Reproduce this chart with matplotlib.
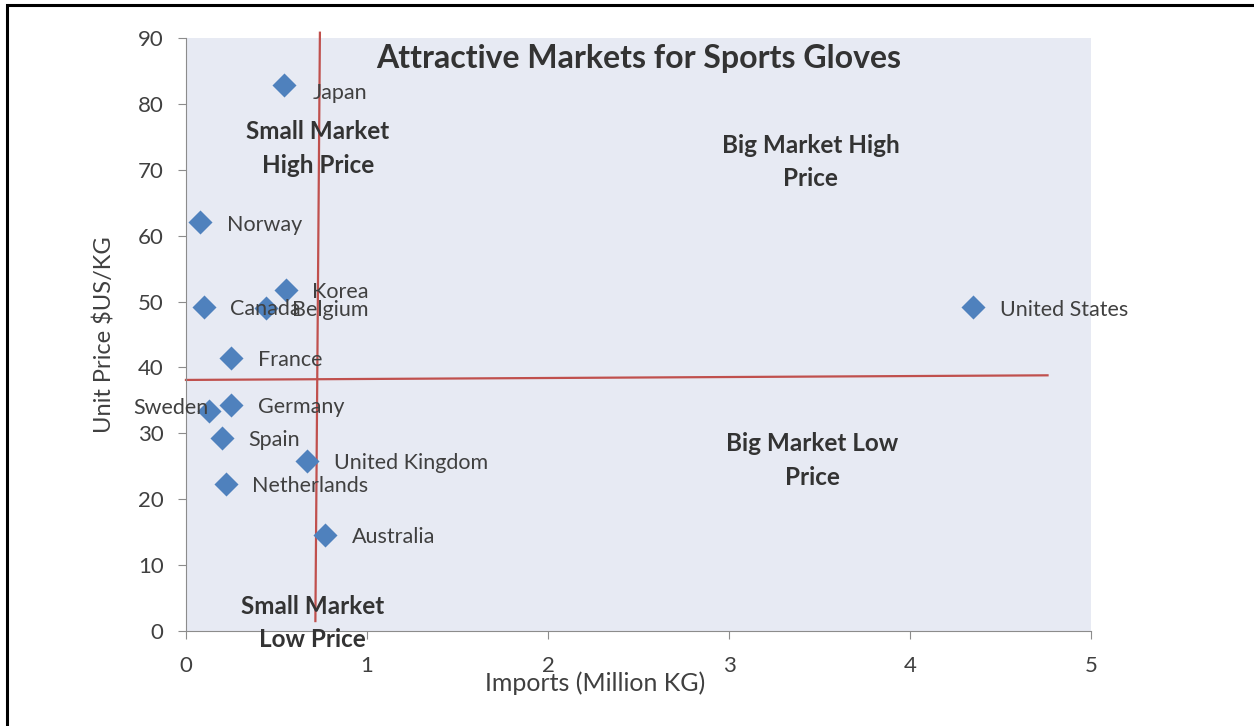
import matplotlib.pyplot as plt
from matplotlib.patches import Rectangle

plt.rcParams['font.family'] = ['Lato', 'DejaVu Sans']

# data
countries = ['Japan', 'Norway', 'Korea', 'Canada', 'Belgium', 'France', 'Sweden',
             'Germany', 'Spain', 'United Kingdom', 'Netherlands', 'Australia',
             'United States']
imports_mkg = [0.54, 0.08, 0.55, 0.10, 0.44, 0.25, 0.13, 0.25, 0.20, 0.67, 0.22, 0.77, 4.35]
unit_price = [82.9, 62.0, 51.7, 49.2, 49.0, 41.5, 33.4, 34.3, 29.3, 25.8, 22.3, 14.6, 49.1]

# quadrant divider lines (hand drawn, slightly tilted)
vline_x = [0.74, 0.715]
vline_y = [90.8, 1.5]
hline_x = [0.0, 4.76]
hline_y = [38.1, 38.8]

quadrants = ['Small Market\nHigh Price', 'Big Market High\nPrice',
             'Big Market Low\nPrice', 'Small Market\nLow Price']
quad_x = [0.73, 3.45, 3.46, 0.70]
quad_y = [73.2, 71.2, 25.9, 1.2]

xticks = [0, 1, 2, 3, 4, 5]
yticks = [0, 10, 20, 30, 40, 50, 60, 70, 80, 90]

blue = '#4f81bd'
red = '#c0504d'
txt = '#404040'

fig = plt.figure(figsize=(12.54, 7.26), dpi=100)
# black frame of the slide
fig.patches.append(Rectangle((0.0056, -0.1), 1.2, 1.093, transform=fig.transFigure,
                             fill=False, edgecolor='black', linewidth=2.2))
ax = fig.add_axes([0.1483, 0.1309, 0.7217, 0.8168])
ax.set_facecolor('#e7eaf3')

ax.plot(vline_x, vline_y, color=red, linewidth=1.6, clip_on=False, zorder=2)
ax.plot(hline_x, hline_y, color=red, linewidth=1.6, clip_on=False, zorder=2)

ax.scatter(imports_mkg, unit_price, marker='D', s=150, color=blue, zorder=3,
           linewidths=0)

for name, x, y in zip(countries, imports_mkg, unit_price):
    dx, dy, ha = 19, -1.5, 'left'
    if name == 'Sweden':
        dx, dy, ha = -1, 2, 'right'
    if name == 'Japan':
        dx, dy = 21, -6
    ax.annotate(name, (x, y), xytext=(dx, dy), textcoords='offset points',
                ha=ha, va='center', fontsize=15.5, color=txt, zorder=4)

for q, x, y in zip(quadrants, quad_x, quad_y):
    ax.text(x, y, q, ha='center', va='center', fontsize=17.5, fontweight='bold',
            color='#333333', linespacing=1.55, clip_on=False, zorder=5)

ax.text(0.5, 0.965, 'Attractive Markets for Sports Gloves', transform=ax.transAxes,
        ha='center', va='center', fontsize=23, fontweight='bold', color='#333333')

ax.set_xlim(0, 5)
ax.set_ylim(0, 90)
ax.set_xticks(xticks)
ax.set_yticks(yticks)
for s in ['top', 'right']:
    ax.spines[s].set_visible(False)
for s in ['left', 'bottom']:
    ax.spines[s].set_color('#8c8c8c')
ax.tick_params(axis='both', colors='#8c8c8c', labelcolor=txt, labelsize=16,
               length=6, direction='out')
ax.tick_params(axis='y', pad=10)
ax.tick_params(axis='x', pad=12)

ax.set_xlabel('Imports (Million KG)', fontsize=18, color=txt)
ax.set_ylabel('Unit Price $US/KG', fontsize=17, color=txt)
ax.xaxis.set_label_coords(0.452, -0.068)
ax.yaxis.set_label_coords(-0.078, 0.5)

fig.savefig('out.png', dpi=100)
